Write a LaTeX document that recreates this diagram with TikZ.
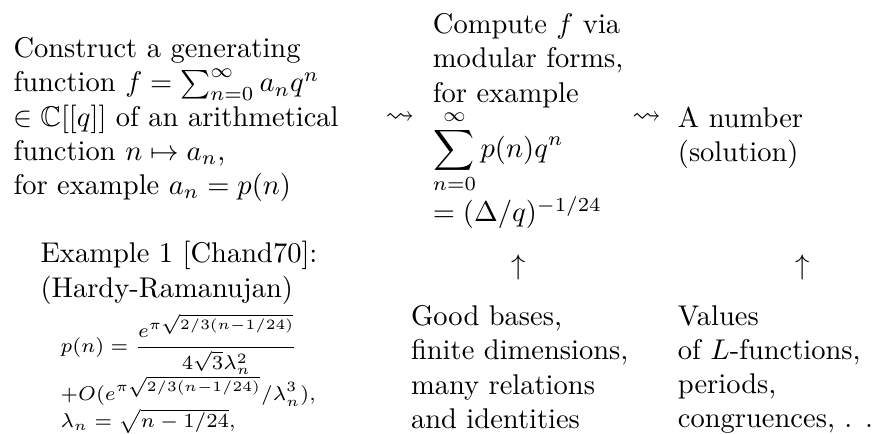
\documentclass[tikz,border=0pt]{standalone}
\usepackage{amsmath,amssymb}
\usepackage{tikz}
\usetikzlibrary{positioning}

\begin{document}
\begin{tikzpicture}[
  txt/.style={align=left,inner sep=0pt,anchor=north west},
  sym/.style={inner sep=0pt}]
\useasboundingbox (0,0) rectangle (10.91,-5.34);
% first row: the three stages
\node[txt] (gen) at (0.160,-0.456) {Construct a generating\\
  function $f=\sum_{n=0}^\infty a_nq^n$\\
  $\in\mathbb{C}[[q]]$ of an arithmetical\\
  function $n\mapsto a_n$,\\
  for example $a_n=p(n)$};
\node[txt] (comp) at (5.33,-0.160) {Compute $f$ via\\
  modular forms,\\
  for example\\
  $\displaystyle\sum_{n=0}^\infty p(n)q^n$\\
  $=(\Delta/q)^{-1/24}$};
\node[txt] (num) at (8.35,-1.307) {A number\\(solution)};
\node[sym] (lt1) at (4.93,-1.455) {$\leadsto$};
\node[sym] (lt2) at (7.97,-1.455) {$\leadsto$};
% example below the first stage
\node[txt] (ex) at (0.493,-2.97) {Example 1 [Chand70]:\\(Hardy-Ramanujan)};
\node[txt,font=\scriptsize] (hr) at (0.740,-3.86) {$\displaystyle p(n)=\frac{e^{\pi\sqrt{2/3(n-1/24)}}}{4\sqrt{3}\lambda_n^2}$\\[-0.5pt]
  $+O(e^{\pi\sqrt{2/3(n-1/24)}}/\lambda_n^3)$,\\
  $\lambda_n=\sqrt{n-1/24}$,};
% what feeds the later stages
\node[sym] (up1) at (6.39,-3.29) {$\uparrow$};
\node[sym] (up2) at (9.89,-3.29) {$\uparrow$};
\node[txt] (bases) at (5.06,-3.76) {Good bases,\\
  finite dimensions,\\
  many relations\\
  and identities};
\node[txt] (vals) at (8.35,-3.76) {Values\\
  of $L$-functions,\\
  periods,\\
  congruences, . . .};
\end{tikzpicture}
\end{document}
